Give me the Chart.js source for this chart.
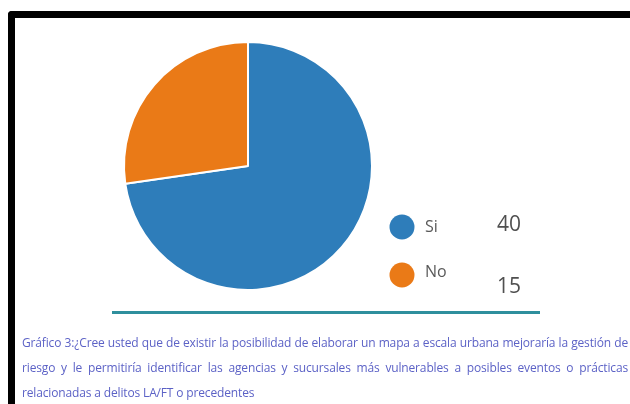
<!DOCTYPE html>
<html lang="es">
<head>
<meta charset="utf-8">
<script src="https://cdn.jsdelivr.net/npm/chart.js@4/dist/chart.umd.min.js"></script>
<style>
  html, body { margin: 0; padding: 0; background: #fff; }
  body { width: 630px; height: 404px; position: relative; overflow: hidden; font-family: "Open Sans", sans-serif; }
  #frame {
    position: absolute; left: 8px; top: 11px; width: 700px; height: 500px;
    border-left: 7px solid #000; border-top: 7px solid #000;
    border-top-left-radius: 4px; box-sizing: border-box;
  }
  #chart { position: absolute; left: 0; top: 0; }
  #rule {
    position: absolute; left: 112px; top: 311px; width: 428px; height: 3px; background: #2f8f9d;
  }
  #caption {
    position: absolute; left: 22px; top: 330px; width: 606px;
    font-size: 12px; letter-spacing: -0.15px; color: #5c62c6; line-height: 25px;
  }
  #caption .full { text-align: justify; text-align-last: justify; white-space: nowrap; }
</style>
</head>
<body>
<div id="frame"></div>
<canvas id="chart" width="630" height="404"></canvas>
<div id="rule"></div>
<div id="caption"></div>
<script>
// Survey answers and their counts
const categories = ["Si", "No"];
const counts = [40, 15];
const sliceColors = ["#2e7dba", "#ea7a17"];
const captionLines = [
  "Gráfico 3:¿Cree usted que de existir la posibilidad de elaborar un mapa a escala urbana mejoraría la gestión de",
  "riesgo y le permitiría identificar las agencias y sucursales más vulnerables a posibles eventos o prácticas",
  "relacionadas a delitos LA/FT o precedentes"
];

// Caption under the chart: first lines justified, last line left-aligned
const cap = document.getElementById("caption");
captionLines.forEach((t, i) => {
  const d = document.createElement("div");
  d.textContent = t;
  if (i < captionLines.length - 1) d.className = "full";
  cap.appendChild(d);
});

// Legend with counts drawn beside the pie
const sideLegend = {
  id: "sideLegend",
  afterDraw(chart) {
    const ctx = chart.ctx;
    const labels = chart.data.labels;
    const data = chart.data.datasets[0].data;
    const colors = chart.data.datasets[0].backgroundColor;
    const markerY = [227, 275];
    const labelY = [227, 272];
    const valueY = [225, 287];
    ctx.save();
    labels.forEach((lab, i) => {
      ctx.beginPath();
      ctx.fillStyle = colors[i];
      ctx.arc(402, markerY[i], 12.5, 0, Math.PI * 2);
      ctx.fill();
      ctx.fillStyle = "#595959";
      ctx.textBaseline = "middle";
      ctx.textAlign = "left";
      ctx.font = "16px 'Open Sans'";
      ctx.fillText(lab, 425, labelY[i]);
      ctx.font = "21px 'Open Sans'";
      ctx.fillStyle = "#505050";
      ctx.fillText(String(data[i]), 497, valueY[i]);
    });
    ctx.restore();
  }
};

new Chart(document.getElementById("chart"), {
  type: "pie",
  data: {
    labels: categories,
    datasets: [{
      data: counts,
      backgroundColor: sliceColors,
      borderColor: "#ffffff",
      borderWidth: 2
    }]
  },
  options: {
    responsive: false,
    animation: false,
    layout: { padding: { left: 123, top: 41, right: 257, bottom: 113 } },
    plugins: { legend: { display: false }, tooltip: { enabled: false } }
  },
  plugins: [sideLegend]
});
</script>
</body>
</html>
